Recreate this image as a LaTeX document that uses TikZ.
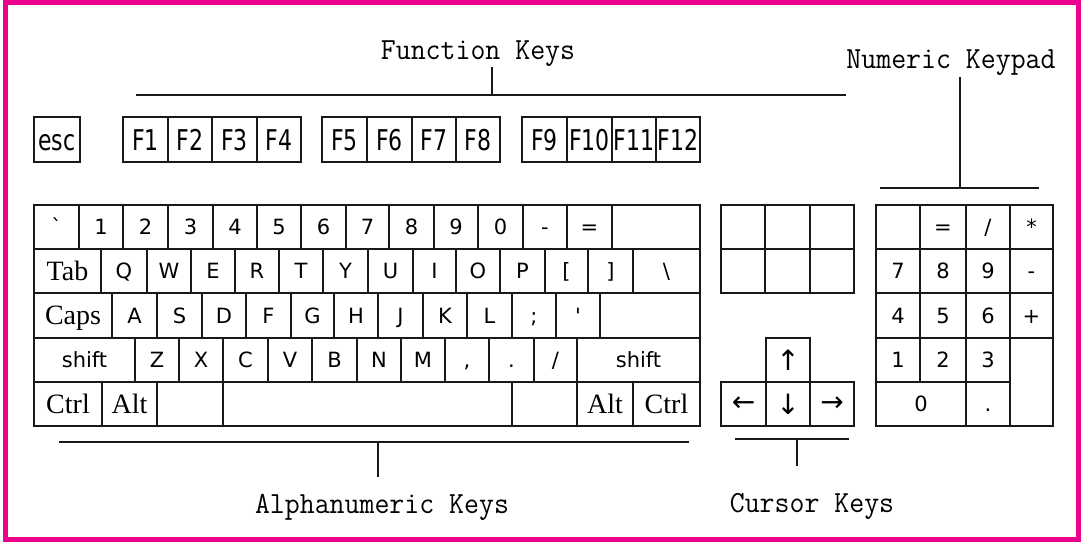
\documentclass[tikz,border=0pt]{standalone}
\usepackage{fontspec}
\usepackage{graphicx}
\newfontfamily\legendfont{DejaVu Sans}
\newfontfamily\capsfont{Liberation Serif}
\definecolor{framepink}{RGB}{236,0,140}
\definecolor{keyline}{RGB}{25,25,25}

% vertically stretched glyphs for the function row and the group titles
\newcommand\stretchfn[1]{\scalebox{1}[1.3]{#1}}
\newcommand\stretchtitle[1]{\scalebox{1}[1.06]{#1}}

% key: name, x1, y1, x2, y2, label style, label
\newcommand\kc[7]{%
  \node[keybox,#6,minimum width={(#4)-(#2)},minimum height={(#5)-(#3)}]
    (#1) at ({((#2)+(#4))/2},{((#3)+(#5))/2}) {#7};}

\tikzset{
  keybox/.style={draw=keyline, line width=1.6pt, inner sep=0pt, outer sep=0pt, rectangle},
  sanslab/.style={font=\legendfont\fontsize{21}{21}\selectfont, text height=15pt, text depth=0pt},
  seriflab/.style={font=\capsfont\fontsize{28}{28}\selectfont, text height=18.5pt, text depth=0pt},
  fnlab/.style={font=\legendfont\fontsize{22}{22}\selectfont, text height=21pt, text depth=0pt},
  arrowlab/.style={font=\legendfont\fontsize{28}{28}\selectfont},
  nolab/.style={},
  grouptitle/.style={font=\ttfamily\fontsize{29}{30}\selectfont, anchor=base, inner sep=0pt},
  bracket/.style={draw=keyline, line width=2pt},
}

\begin{document}
\begin{tikzpicture}[x=1pt,y=-1pt]
\useasboundingbox (0,0) rectangle (1083,544);
\fill[white] (0,0) rectangle (1083,544);
\draw[framepink, line width=4.5pt] (5.5,2.5) rectangle (1078.5,539.5);

% ---- function row
\kc{kesc}{34}{117}{80}{162}{fnlab}{\stretchfn{esc}}
\kc{kf1}{123}{117}{168}{162}{fnlab}{\stretchfn{F1}}
\kc{kf2}{168}{117}{212}{162}{fnlab}{\stretchfn{F2}}
\kc{kf3}{212}{117}{257}{162}{fnlab}{\stretchfn{F3}}
\kc{kf4}{257}{117}{301}{162}{fnlab}{\stretchfn{F4}}
\kc{kf5}{322}{117}{367}{162}{fnlab}{\stretchfn{F5}}
\kc{kf6}{367}{117}{412}{162}{fnlab}{\stretchfn{F6}}
\kc{kf7}{412}{117}{456}{162}{fnlab}{\stretchfn{F7}}
\kc{kf8}{456}{117}{500}{162}{fnlab}{\stretchfn{F8}}
\kc{kf9}{522}{117}{567}{162}{fnlab}{\stretchfn{F9}}
\kc{kf10}{567}{117}{612}{162}{fnlab}{\stretchfn{F10}}
\kc{kf11}{612}{117}{656}{162}{fnlab}{\stretchfn{F11}}
\kc{kf12}{656}{117}{700}{162}{fnlab}{\stretchfn{F12}}

% ---- main block, row 1
\kc{kgrave}{34}{205}{79}{249}{sanslab}{\char96}
\kc{kone}{79}{205}{123}{249}{sanslab}{1}
\kc{ktwo}{123}{205}{168}{249}{sanslab}{2}
\kc{kthree}{168}{205}{213}{249}{sanslab}{3}
\kc{kfour}{213}{205}{257}{249}{sanslab}{4}
\kc{kfive}{257}{205}{301}{249}{sanslab}{5}
\kc{ksix}{301}{205}{346}{249}{sanslab}{6}
\kc{kseven}{346}{205}{389}{249}{sanslab}{7}
\kc{keight}{389}{205}{434}{249}{sanslab}{8}
\kc{knine}{434}{205}{478}{249}{sanslab}{9}
\kc{kzero}{478}{205}{523}{249}{sanslab}{0}
\kc{kminus}{523}{205}{567}{249}{sanslab}{-}
\kc{kequal}{567}{205}{612}{249}{sanslab}{=}
\kc{kback}{612}{205}{700}{249}{nolab}{}

% row 2
\kc{ktab}{34}{249}{101}{293}{seriflab}{Tab}
\kc{kq}{101}{249}{147}{293}{sanslab}{Q}
\kc{kw}{147}{249}{191}{293}{sanslab}{W}
\kc{ke}{191}{249}{235}{293}{sanslab}{E}
\kc{kr}{235}{249}{279}{293}{sanslab}{R}
\kc{kt}{279}{249}{323}{293}{sanslab}{T}
\kc{ky}{323}{249}{368}{293}{sanslab}{Y}
\kc{ku}{368}{249}{413}{293}{sanslab}{U}
\kc{ki}{413}{249}{456}{293}{sanslab}{I}
\kc{ko}{456}{249}{500}{293}{sanslab}{O}
\kc{kp}{500}{249}{545}{293}{sanslab}{P}
\kc{klbr}{545}{249}{588}{293}{sanslab}{[}
\kc{krbr}{588}{249}{633}{293}{sanslab}{]}
\kc{kbsl}{633}{249}{700}{293}{sanslab}{\char92}

% row 3
\kc{kcaps}{34}{293}{112}{338}{seriflab}{Caps}
\kc{ka}{112}{293}{157}{338}{sanslab}{A}
\kc{ks}{157}{293}{202}{338}{sanslab}{S}
\kc{kd}{202}{293}{246}{338}{sanslab}{D}
\kc{kf}{246}{293}{291}{338}{sanslab}{F}
\kc{kg}{291}{293}{334}{338}{sanslab}{G}
\kc{kh}{334}{293}{378}{338}{sanslab}{H}
\kc{kj}{378}{293}{423}{338}{sanslab}{J}
\kc{kk}{423}{293}{467}{338}{sanslab}{K}
\kc{kl}{467}{293}{512}{338}{sanslab}{L}
\kc{ksemi}{512}{293}{556}{338}{sanslab}{;}
\kc{kquote}{556}{293}{600}{338}{sanslab}{\char39}
\kc{kenter}{600}{293}{700}{338}{nolab}{}

% row 4
\kc{klshift}{34}{338}{135}{382}{sanslab}{shift}
\kc{kz}{135}{338}{179}{382}{sanslab}{Z}
\kc{kx}{179}{338}{223}{382}{sanslab}{X}
\kc{kc}{223}{338}{268}{382}{sanslab}{C}
\kc{kv}{268}{338}{312}{382}{sanslab}{V}
\kc{kb}{312}{338}{357}{382}{sanslab}{B}
\kc{kn}{357}{338}{401}{382}{sanslab}{N}
\kc{km}{401}{338}{445}{382}{sanslab}{M}
\kc{kcomma}{445}{338}{489}{382}{sanslab}{,}
\kc{kdot}{489}{338}{534}{382}{sanslab}{.}
\kc{kslash}{534}{338}{577}{382}{sanslab}{/}
\kc{krshift}{577}{338}{700}{382}{sanslab}{shift}

% row 5
\kc{klctrl}{34}{382}{102}{426}{seriflab}{Ctrl}
\kc{klalt}{102}{382}{157}{426}{seriflab}{Alt}
\kc{klwin}{157}{382}{223}{426}{nolab}{}
\kc{kspace}{223}{382}{512}{426}{nolab}{}
\kc{krwin}{512}{382}{577}{426}{nolab}{}
\kc{kralt}{577}{382}{633}{426}{seriflab}{Alt}
\kc{krctrl}{633}{382}{700}{426}{seriflab}{Ctrl}

% ---- editing block (blank) and cursor keys
\kc{ked1}{721}{205}{765}{249}{nolab}{}
\kc{ked2}{765}{205}{810}{249}{nolab}{}
\kc{ked3}{810}{205}{854}{249}{nolab}{}
\kc{ked4}{721}{249}{765}{293}{nolab}{}
\kc{ked5}{765}{249}{810}{293}{nolab}{}
\kc{ked6}{810}{249}{854}{293}{nolab}{}
\kc{kup}{766}{338}{810}{382}{arrowlab}{↑}
\kc{kleft}{721}{382}{766}{426}{arrowlab}{←}
\kc{kdown}{766}{382}{810}{426}{arrowlab}{↓}
\kc{kright}{810}{382}{854}{426}{arrowlab}{→}

% ---- numeric keypad
\kc{nnum}{876}{205}{920}{249}{nolab}{}
\kc{neq}{920}{205}{966}{249}{sanslab}{=}
\kc{ndiv}{966}{205}{1010}{249}{sanslab}{/}
\kc{nmul}{1010}{205}{1053}{249}{sanslab}{*}
\kc{nseven}{876}{249}{920}{293}{sanslab}{7}
\kc{neight}{920}{249}{966}{293}{sanslab}{8}
\kc{nnine}{966}{249}{1010}{293}{sanslab}{9}
\kc{nminus}{1010}{249}{1053}{293}{sanslab}{-}
\kc{nfour}{876}{293}{920}{338}{sanslab}{4}
\kc{nfive}{920}{293}{966}{338}{sanslab}{5}
\kc{nsix}{966}{293}{1010}{338}{sanslab}{6}
\kc{nplus}{1010}{293}{1053}{338}{sanslab}{+}
\kc{none}{876}{338}{920}{382}{sanslab}{1}
\kc{ntwo}{920}{338}{966}{382}{sanslab}{2}
\kc{nthree}{966}{338}{1010}{382}{sanslab}{3}
\kc{nenter}{1010}{338}{1053}{426}{nolab}{}
\kc{nzero}{876}{382}{966}{426}{sanslab}{0}
\kc{ndot}{966}{382}{1010}{426}{sanslab}{.}

% ---- group titles and their brackets
\node[grouptitle] (fnlabel) at (478,59) {\stretchtitle{Function Keys}};
\node[grouptitle] (numlabel) at (951,68) {\stretchtitle{Numeric Keypad}};
\node[grouptitle] (alphalabel) at (382,513) {\stretchtitle{Alphanumeric Keys}};
\node[grouptitle] (curlabel) at (812,512) {\stretchtitle{Cursor Keys}};

\coordinate (fnL) at (136,95);  \coordinate (fnR) at (846,95);
\coordinate (fnM) at (492,95);  \coordinate (fnT) at (492,67);
\draw[bracket] (fnL) -- (fnR);
\draw[bracket] (fnM) -- (fnT);

\coordinate (numL) at (880,188); \coordinate (numR) at (1039,188);
\coordinate (numM) at (960,188); \coordinate (numT) at (960,77);
\draw[bracket] (numL) -- (numR);
\draw[bracket] (numM) -- (numT);

\coordinate (alL) at (59,442);  \coordinate (alR) at (689,442);
\coordinate (alM) at (378,442); \coordinate (alB) at (378,477);
\draw[bracket, line width=2.6pt] (alL) -- (alR);
\draw[bracket] (alM) -- (alB);

\coordinate (cuL) at (735,439); \coordinate (cuR) at (849,439);
\coordinate (cuM) at (797,439); \coordinate (cuB) at (797,466);
\draw[bracket] (cuL) -- (cuR);
\draw[bracket] (cuM) -- (cuB);
\end{tikzpicture}
\end{document}
